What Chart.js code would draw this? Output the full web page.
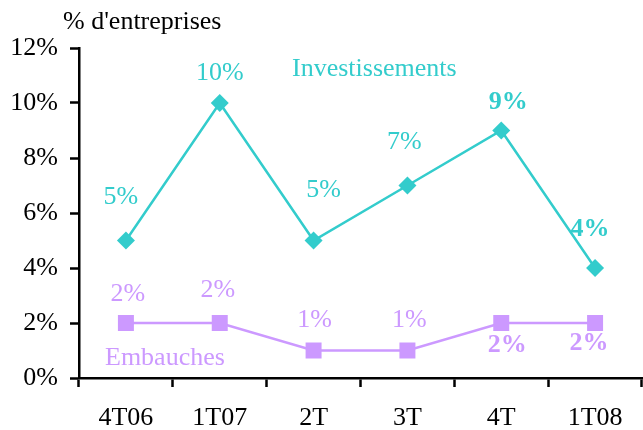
<!DOCTYPE html>
<html>
<head>
<meta charset="utf-8">
<script src="https://cdn.jsdelivr.net/npm/chart.js@4/dist/chart.umd.min.js"></script>
<style>
  html, body { margin: 0; padding: 0; background: #fff; }
  #wrap { width: 643px; height: 430px; position: relative; }
</style>
</head>
<body>
<div id="wrap"><canvas id="chart"></canvas></div>
<script>
// Trimestres et valeurs (% d'entreprises)
const trimestres = ['4T06', '1T07', '2T', '3T', '4T', '1T08'];
const investissements = [5, 10, 5, 7, 9, 4];
const embauches = [2, 2, 1, 1, 2, 2];
const yTicks = [0, 2, 4, 6, 8, 10, 12];

// Étiquettes en gras (dernières valeurs)
const invGras = [false, false, false, false, true, true];
const embGras = [false, false, false, false, true, true];

// Décalage des étiquettes par rapport au point (px)
const invDecalage = [[-5, -43], [0, -30], [10, -50], [-3, -43], [7, -28], [-5, -39]];
const embDecalage = [[2, -29], [-2, -33], [1, -30], [2, -30], [6, 22], [-6, 20]];

const TEAL = '#33CCCC';
const LILAS = '#CC99FF';
const POLICE = '"Liberation Serif", "Times New Roman", serif';

// Étiquettes de valeurs, noms des séries et titre de l'axe
const etiquettes = {
    id: 'etiquettes',
    afterDatasetsDraw(chart) {
        const ctx = chart.ctx;
        const sx = chart.scales.x, sy = chart.scales.y;
        ctx.save();
        ctx.textAlign = 'center';
        ctx.textBaseline = 'middle';
        const serie = (valeurs, gras, dec, couleur) => {
            ctx.fillStyle = couleur;
            valeurs.forEach((v, i) => {
                ctx.font = (gras[i] ? 'bold ' : '') + '26px ' + POLICE;
                ctx.fillText(v + '%', sx.getPixelForValue(i) + dec[i][0], sy.getPixelForValue(v) + dec[i][1]);
            });
        };
        serie(investissements, invGras, invDecalage, TEAL);
        serie(embauches, embGras, embDecalage, LILAS);

        ctx.font = '26px ' + POLICE;
        ctx.textAlign = 'left';
        ctx.fillStyle = TEAL;
        ctx.fillText('Investissements', 292, 69);
        ctx.fillStyle = LILAS;
        ctx.fillText('Embauches', 105, 358);
        ctx.fillStyle = '#000';
        ctx.fillText("% d'entreprises", 63, 22);
        ctx.restore();
    }
};

new Chart(document.getElementById('chart'), {
    type: 'line',
    data: {
        labels: trimestres,
        datasets: [
            {
                label: 'Investissements',
                data: investissements,
                borderColor: TEAL,
                backgroundColor: TEAL,
                borderWidth: 2.5,
                pointStyle: 'rectRot',
                pointRadius: 9,
                pointBorderWidth: 0,
                tension: 0
            },
            {
                label: 'Embauches',
                data: embauches,
                borderColor: LILAS,
                backgroundColor: LILAS,
                borderWidth: 2.5,
                pointStyle: 'rect',
                pointRadius: 11.3,
                pointBorderWidth: 0,
                tension: 0
            }
        ]
    },
    options: {
        responsive: true,
        maintainAspectRatio: false,
        animation: false,
        layout: { autoPadding: false, padding: { top: 48, right: 1, left: 0, bottom: 0 } },
        plugins: {
            legend: { display: false },
            tooltip: { enabled: false }
        },
        scales: {
            x: {
                offset: true,
                grid: {
                    offset: true,
                    drawOnChartArea: false,
                    drawTicks: true,
                    tickLength: 9,
                    tickWidth: 2.5,
                    color: '#000'
                },
                border: { display: true, color: '#000', width: 2.5 },
                ticks: {
                    color: '#000',
                    padding: 16,
                    font: { family: POLICE, size: 26 }
                },
                afterFit(scale) { scale.height = 52; }
            },
            y: {
                min: 0,
                max: 12,
                afterBuildTicks(scale) { scale.ticks = yTicks.map(v => ({ value: v })); },
                grid: {
                    drawOnChartArea: false,
                    drawTicks: true,
                    tickLength: 9,
                    tickWidth: 2.5,
                    color: '#000'
                },
                border: { display: true, color: '#000', width: 2.5 },
                ticks: {
                    color: '#000',
                    padding: 12,
                    font: { family: POLICE, size: 26 },
                    callback: v => v + '%'
                },
                afterFit(scale) { scale.width = 79; }
            }
        }
    },
    plugins: [etiquettes]
});
</script>
</body>
</html>
